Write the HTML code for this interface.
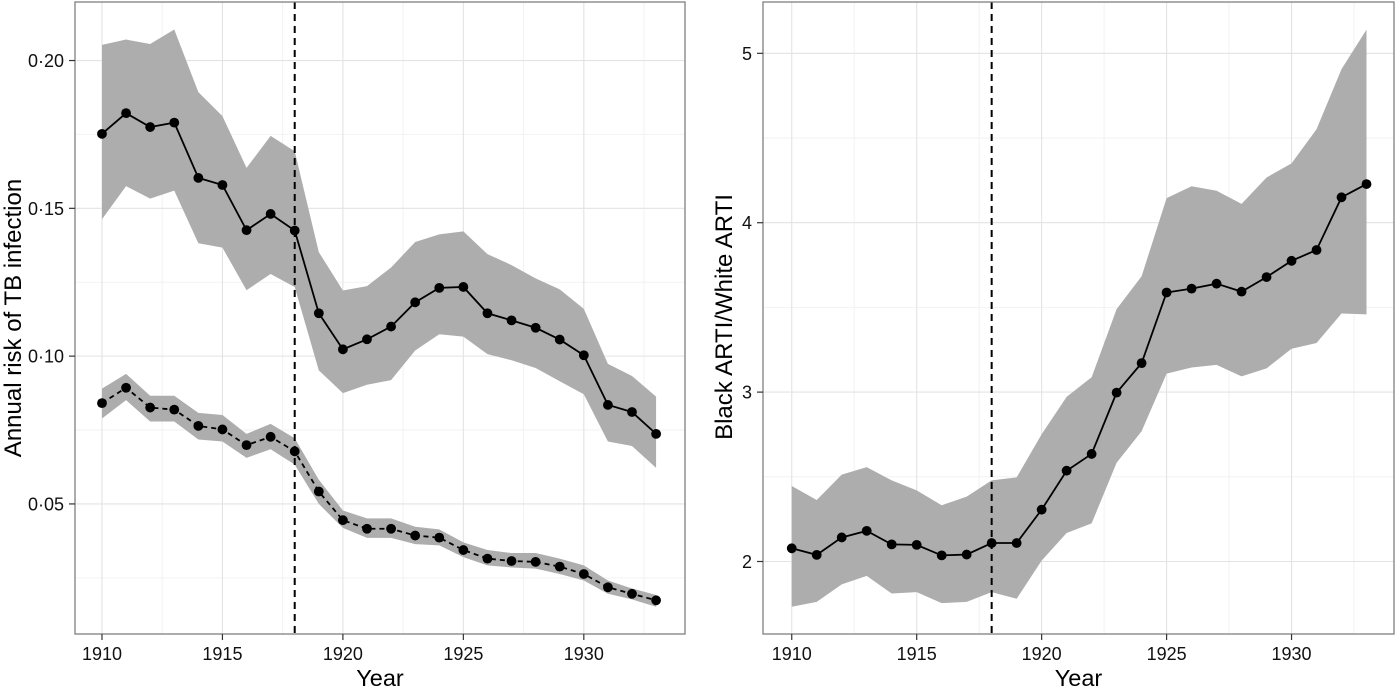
<!DOCTYPE html>
<html><head><meta charset="utf-8"><style>
html,body{margin:0;padding:0;background:#fff;}
svg{display:block;font-family:"Liberation Sans",Arial,sans-serif;}
</style></head><body>
<svg id="c" width="1400" height="687"></svg>
<script>
const years=[1910,1911,1912,1913,1914,1915,1916,1917,1918,1919,1920,1921,1922,1923,1924,1925,1926,1927,1928,1929,1930,1931,1932,1933];
const blackArti=[.1752,.1822,.1775,.1790,.1603,.1579,.1426,.1481,.1425,.1145,.1023,.1057,.1100,.1182,.1231,.1234,.1145,.1121,.1096,.1056,.1003,.0835,.0811,.0737];
const blackUpper=[.2053,.2071,.2056,.2105,.1893,.1812,.1637,.1745,.1693,.1352,.1222,.1237,.1300,.1386,.1412,.1422,.1345,.1308,.1263,.1226,.1160,.0974,.0933,.0863];
const blackLower=[.1463,.1575,.1533,.1560,.1382,.1367,.1223,.1278,.1234,.0952,.0875,.0903,.0919,.1019,.1074,.1066,.1007,.0986,.0960,.0915,.0871,.0711,.0696,.0622];
const whiteArti=[.0841,.0893,.0826,.0819,.0764,.0752,.0699,.0727,.0678,.0542,.0445,.0416,.0416,.0393,.0386,.0344,.0315,.0307,.0304,.0288,.0263,.0218,.0196,.0174];
const whiteUpper=[.0890,.0940,.0866,.0866,.0808,.0801,.0737,.0771,.0722,.0582,.0478,.0451,.0451,.0423,.0414,.0370,.0344,.0334,.0334,.0315,.0292,.0241,.0214,.0192];
const whiteLower=[.0789,.0851,.0779,.0779,.0718,.0711,.0656,.0685,.0633,.0500,.0419,.0385,.0385,.0364,.0360,.0320,.0292,.0285,.0281,.0263,.0241,.0196,.0177,.0152];
const ratio=[2.078,2.039,2.142,2.181,2.101,2.098,2.036,2.041,2.109,2.109,2.306,2.536,2.635,2.997,3.171,3.588,3.611,3.640,3.593,3.679,3.775,3.839,4.150,4.228];
const ratioUpper=[2.446,2.363,2.513,2.557,2.479,2.420,2.332,2.383,2.479,2.497,2.751,2.972,3.088,3.490,3.684,4.145,4.215,4.189,4.111,4.267,4.350,4.552,4.907,5.140];
const ratioLower=[1.733,1.762,1.865,1.915,1.811,1.819,1.754,1.762,1.819,1.780,2.005,2.168,2.225,2.583,2.769,3.109,3.145,3.161,3.093,3.140,3.256,3.290,3.464,3.459];
const xTicks=[1910,1915,1920,1925,1930];
const leftYTicks=[0.05,0.10,0.15,0.20];
const leftYLabels=["0·05","0·10","0·15","0·20"];
const rightYTicks=[2,3,4,5];
const rightYLabels=["2","3","4","5"];
const interventionYear=1918;

const NS="http://www.w3.org/2000/svg";
const svg=document.getElementById('c');
function mk(tag,attrs,parent){const e=document.createElementNS(NS,tag);for(const k in attrs)e.setAttribute(k,attrs[k]);(parent||svg).appendChild(e);return e;}

function panel(o){
  const g=mk('g',{});
  
  
  const X=v=>o.x0+(v-o.xmin)/(o.xmax-o.xmin)*(o.x1-o.x0);
  const Y=v=>o.y1-(v-o.ymin)/(o.ymax-o.ymin)*(o.y1-o.y0);
  [1912.5,1917.5,1922.5,1927.5,1932.5].forEach(yr=>{const l=mk('line',{x1:X(yr),x2:X(yr),y1:o.y0,y2:o.y1,stroke:'#f2f2f2','stroke-width':1},g);});
  o.minorY.forEach(v=>{const l=mk('line',{x1:o.x0,x2:o.x1,y1:Y(v),y2:Y(v),stroke:'#f2f2f2','stroke-width':1},g);});
  xTicks.forEach(v=>{const l=mk('line',{x1:X(v),x2:X(v),y1:o.y0,y2:o.y1,stroke:'#e3e3e3','stroke-width':1.1},g);});
  o.yTicks.forEach(v=>{const l=mk('line',{x1:o.x0,x2:o.x1,y1:Y(v),y2:Y(v),stroke:'#e3e3e3','stroke-width':1.1},g);});
  o.series.forEach(s=>{
    let d='M'+years.map((yr,i)=>X(yr)+','+Y(s.up[i])).join('L');
    d+='L'+years.slice().reverse().map((yr,j)=>{const i=years.length-1-j;return X(yr)+','+Y(s.lo[i]);}).join('L')+'Z';
    const b=mk('path',{d:d,fill:'#adadad',stroke:'none'},g);
    
    
  });
  const vl=mk('line',{x1:X(interventionYear),x2:X(interventionYear),y1:o.y0,y2:o.y1,stroke:'#000','stroke-width':2,'stroke-dasharray':'7,5'},g);
  
  
  o.series.forEach(s=>{
    const pl=mk('polyline',{points:years.map((yr,i)=>X(yr)+','+Y(s.v[i])).join(' '),fill:'none',stroke:'#000','stroke-width':1.8,'stroke-dasharray':s.dash||'none'},g);
    
    
    years.forEach((yr,i)=>{
      const c=mk('circle',{cx:X(yr),cy:Y(s.v[i]),r:4.9,fill:'#000'},g);
      
      
    });
  });
  const fr=mk('rect',{x:o.x0,y:o.y0,width:o.x1-o.x0,height:o.y1-o.y0,fill:'none',stroke:'#7f7f7f','stroke-width':1.3},g);
  
  
  xTicks.forEach(v=>{
    const tk=mk('line',{x1:X(v),x2:X(v),y1:o.y1,y2:o.y1+6,stroke:'#333','stroke-width':1.2},g);
    
    
    const t=mk('text',{x:X(v),y:o.y1+26,'text-anchor':'middle','font-size':18,fill:'#111'},g);
    t.textContent=v;
    
    
  });
  o.yTicks.forEach((v,i)=>{
    const tk=mk('line',{x1:o.x0-6,x2:o.x0,y1:Y(v),y2:Y(v),stroke:'#333','stroke-width':1.2},g);
    
    
    const t=mk('text',{x:o.x0-11,y:Y(v)+6.5,'text-anchor':'end','font-size':18,fill:'#111'},g);
    t.textContent=o.yLabels[i];
    
    
  });
  const xt=mk('text',{x:(o.x0+o.x1)/2,y:686,'text-anchor':'middle','font-size':23.5,fill:'#000'},g);
  xt.textContent='Year';
  
  
  const yt=mk('text',{x:0,y:0,'text-anchor':'middle','font-size':24,fill:'#000',transform:'translate('+o.ytX+','+o.ytY+') rotate(-90)'},g);
  yt.textContent=o.yTitle;
  
  
}

panel({name:'arti-panel',x0:75,x1:685,y0:2,y1:634,xmin:1908.88,xmax:1934.2,ymin:0.0060,ymax:0.2198,
  yTicks:leftYTicks,yLabels:leftYLabels,minorY:[0.025,0.075,0.125,0.175],ytX:21,ytY:318,yTitle:'Annual risk of TB infection',
  series:[{name:'black-arti',v:blackArti,up:blackUpper,lo:blackLower},{name:'white-arti',v:whiteArti,up:whiteUpper,lo:whiteLower,dash:'5,4'}]});
panel({name:'ratio-panel',x0:763,x1:1394,y0:2,y1:634,xmin:1908.85,xmax:1934.1,ymin:1.572,ymax:5.303,
  yTicks:rightYTicks,yLabels:rightYLabels,minorY:[2.5,3.5,4.5],ytX:732,ytY:317,yTitle:'Black ARTI/White ARTI',
  series:[{name:'ratio',v:ratio,up:ratioUpper,lo:ratioLower}]});
</script>
</body></html>
